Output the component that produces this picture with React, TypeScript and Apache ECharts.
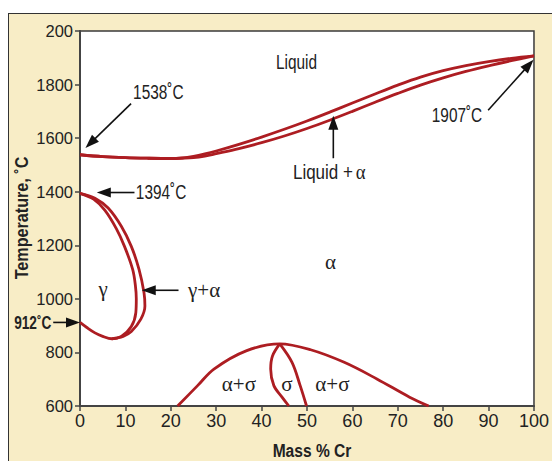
import React, { useEffect, useRef } from "react";
import * as echarts from "echarts";

// ---------- data (Mass % Cr, Temperature °C) ----------
const xTicks = [0, 10, 20, 30, 40, 50, 60, 70, 80, 90, 100];
const yTicks = [600, 800, 1000, 1200, 1400, 1600, 1800, 2000];
const yTickLabels = ["600", "800", "1000", "1200", "1400", "1600", "1800", "200"];

const liquidus: number[][] = [
  [0, 1538], [5, 1531], [10, 1527], [15, 1525], [20, 1524], [22.5, 1526],
  [25, 1532], [27.5, 1541], [30, 1552], [35, 1577], [40, 1604], [45, 1633],
  [50, 1664], [55, 1697], [60, 1731], [65, 1765], [70, 1798], [75, 1828],
  [80, 1852], [85, 1871], [90, 1886], [95, 1898], [100, 1907],
];
const solidus: number[][] = [
  [0, 1538], [5, 1531], [10, 1527], [15, 1525], [20, 1524], [22.5, 1525],
  [25, 1527], [27.5, 1533], [30, 1542], [35, 1561], [40, 1583], [45, 1608],
  [50, 1636], [55, 1667], [60, 1700], [65, 1734], [70, 1767], [75, 1798],
  [80, 1825], [85, 1849], [90, 1870], [95, 1889], [100, 1907],
];
const gammaInner: number[][] = [
  [0, 912], [1.5, 893], [3.3, 873], [5, 860], [7, 851], [9.1, 860], [11.3, 897],
  [12.3, 949], [12.4, 1000], [12.2, 1050], [11.6, 1110], [9.8, 1196],
  [8, 1262], [5.5, 1330], [3, 1372], [0, 1394],
];
const gammaOuter: number[][] = [
  [7, 851], [9.5, 860], [11.3, 878], [13.4, 924], [14.3, 973], [14.1, 1023],
  [13, 1110], [11.3, 1196], [9.1, 1271], [6.2, 1339], [3.3, 1376], [0, 1394],
];
const sigmaDome: number[][] = [
  [21.5, 600], [25.9, 676], [29.5, 738], [36.6, 806], [44, 832], [50.8, 810],
  [58.2, 763], [65.4, 701], [72.6, 633], [76.8, 600],
];
const sigmaLeft: number[][] = [
  [44, 832], [42.4, 787], [42, 738], [42.7, 676], [44.5, 633], [46, 600],
];
const sigmaRight: number[][] = [
  [44, 832], [46.7, 763], [48.5, 676], [49.9, 600],
];

// annotations: arrows [tailX, tailT, tipX, tipT]
const arrows: number[][] = [
  [11.25, 1729, 1.2, 1563],
  [12.0, 1397, 3.7, 1397],
  [21.7, 1032, 13.6, 1032],
  [-5.9, 912, 0, 912],
  [89.9, 1704, 99.9, 1893],
  [55.8, 1525, 55.8, 1684],
];
// labels: [text, x, T, align, kind]
const labels: [string, number, number, string, string][] = [
  ["1538˚C", 11.7, 1770, "left", "sans"],
  ["1394˚C", 12.3, 1397, "left", "sans"],
  ["γ+α", 23.8, 1032, "left", "greek"],
  ["912˚C", -6.3, 912, "right", "bold"],
  ["1907˚C", 88.6, 1686, "right", "sans"],
  ["Liquid", 47.7, 1883, "center", "sans"],
  ["α", 55.2, 1136, "center", "greek"],
  ["γ", 5.1, 1035, "center", "greek"],
  ["α+σ", 35, 682, "center", "greek"],
  ["σ", 45.6, 682, "center", "greek"],
  ["α+σ", 55.6, 682, "center", "greek"],
];
const liquidAlphaLabel = { x: 54.9, T: 1474 };

const RED = "#ad1d22";
const SANS = "'Liberation Sans', Arial, sans-serif";
const SERIF = "'Liberation Serif', 'DejaVu Serif', serif";

export default function App() {
  const ref = useRef<HTMLDivElement>(null);
  useEffect(() => {
    if (!ref.current) return;
    const chart = echarts.init(ref.current, null, { renderer: "svg" });
    const lineSeries = (name: string, data: number[][]) => ({
      type: "line",
      name,
      data,
      smooth: 0.35,
      showSymbol: false,
      symbol: "none",
      lineStyle: { color: RED, width: 2.8 },
      z: 3,
    });
    chart.setOption({
      animation: false,
      backgroundColor: "transparent",
      grid: {
        left: 80, right: 7, top: 31, bottom: 55, show: true,
        backgroundColor: "#ffffff", borderColor: "#3a3a3a", borderWidth: 1.5,
      },
      xAxis: {
        type: "value", min: 0, max: 100, interval: 10,
        axisLine: { show: true, lineStyle: { color: "#444", width: 2 } },
        axisTick: { show: true, length: 5, lineStyle: { color: "#444", width: 1.5 } },
        axisLabel: {
          margin: 6, fontSize: 18, color: "#222", fontFamily: SANS,
          formatter: (v: number) => (xTicks.includes(v) ? String(v) : ""),
        },
        splitLine: { show: false },
      },
      yAxis: {
        type: "value", min: 600, max: 2000, interval: 200,
        axisLine: { show: true, lineStyle: { color: "#444", width: 2 } },
        axisTick: { show: true, length: 5, lineStyle: { color: "#444", width: 1.5 } },
        axisLabel: {
          margin: 7, fontSize: 16.5, color: "#222", fontFamily: SANS,
          formatter: (v: number) => {
            const i = yTicks.indexOf(v);
            return i >= 0 ? yTickLabels[i] : "";
          },
        },
        splitLine: { show: false },
      },
      series: [
        lineSeries("liquidus", liquidus),
        lineSeries("solidus", solidus),
        lineSeries("gammaInner", gammaInner),
        lineSeries("gammaOuter", gammaOuter),
        lineSeries("sigmaDome", sigmaDome),
        lineSeries("sigmaLeft", sigmaLeft),
        lineSeries("sigmaRight", sigmaRight),
      ],
    });

    const toPx = (x: number, y: number) =>
      chart.convertToPixel({ gridIndex: 0 }, [x, y]) as number[];
    const graphics: any[] = [];
    arrows.forEach(([tx, tT, hx, hT]) => {
      const [x1, y1] = toPx(tx, tT);
      const [x2, y2] = toPx(hx, hT);
      const dx = x2 - x1, dy = y2 - y1;
      const len = Math.sqrt(dx * dx + dy * dy);
      const ux = dx / len, uy = dy / len;
      const hl = 14, hw = 5;
      const bx = x2 - ux * hl, by = y2 - uy * hl;
      graphics.push({
        type: "line", z: 10,
        shape: { x1, y1, x2: bx + ux * 2, y2: by + uy * 2 },
        style: { stroke: "#111", lineWidth: 1.6 },
      });
      graphics.push({
        type: "polygon", z: 10,
        shape: { points: [[x2, y2], [bx - uy * hw, by + ux * hw], [bx + uy * hw, by - ux * hw]] },
        style: { fill: "#111" },
      });
    });
    labels.forEach(([text, x, T, align, kind]) => {
      const [px, py] = toPx(x, T);
      const font =
        kind === "greek" ? `21px ${SERIF}` :
        kind === "bold" ? `bold 19px ${SANS}` : `20px ${SANS}`;
      graphics.push({
        type: "text", z: 10, x: px, y: py,
        scaleX: kind === "greek" ? 1 : kind === "bold" ? 0.72 : 0.77,
        style: { text, font, fill: "#222", align, verticalAlign: "middle" },
      });
    });
    {
      const [px, py] = toPx(liquidAlphaLabel.x, liquidAlphaLabel.T);
      graphics.push({
        type: "text", z: 10, x: px, y: py, scaleX: 0.85,
        style: {
          text: "{a|Liquid +} {b|α}", fill: "#222", align: "center", verticalAlign: "middle",
          rich: {
            a: { font: `20px ${SANS}`, fill: "#222" },
            b: { font: `22px ${SERIF}`, fill: "#222" },
          },
        },
      });
    }
    // axis titles
    graphics.push({
      type: "text", z: 10, x: 312, y: 450, scaleX: 0.82,
      style: { text: "Mass % Cr", font: `bold 19px ${SANS}`, fill: "#222", align: "center", verticalAlign: "middle" },
    });
    graphics.push({
      type: "text", z: 10, x: 22, y: 218, rotation: Math.PI / 2, scaleX: 0.85,
      style: { text: "Temperature, ˚C", font: `bold 19px ${SANS}`, fill: "#222", align: "center", verticalAlign: "middle" },
    });
    chart.setOption({ graphic: graphics });
    return () => chart.dispose();
  }, []);

  return (
    <div style={{ position: "fixed", left: 0, top: 0, width: 552, height: 461, overflow: "hidden", background: "#ffffff" }}>
      <div
        style={{
          position: "absolute", left: 8, top: 13, width: 600, height: 500,
          background: "#f8edc6", border: "1.5px solid #333",
        }}
      />
      <div ref={ref} style={{ position: "absolute", left: 0, top: 0, width: 552, height: 461 }} />
    </div>
  );
}
